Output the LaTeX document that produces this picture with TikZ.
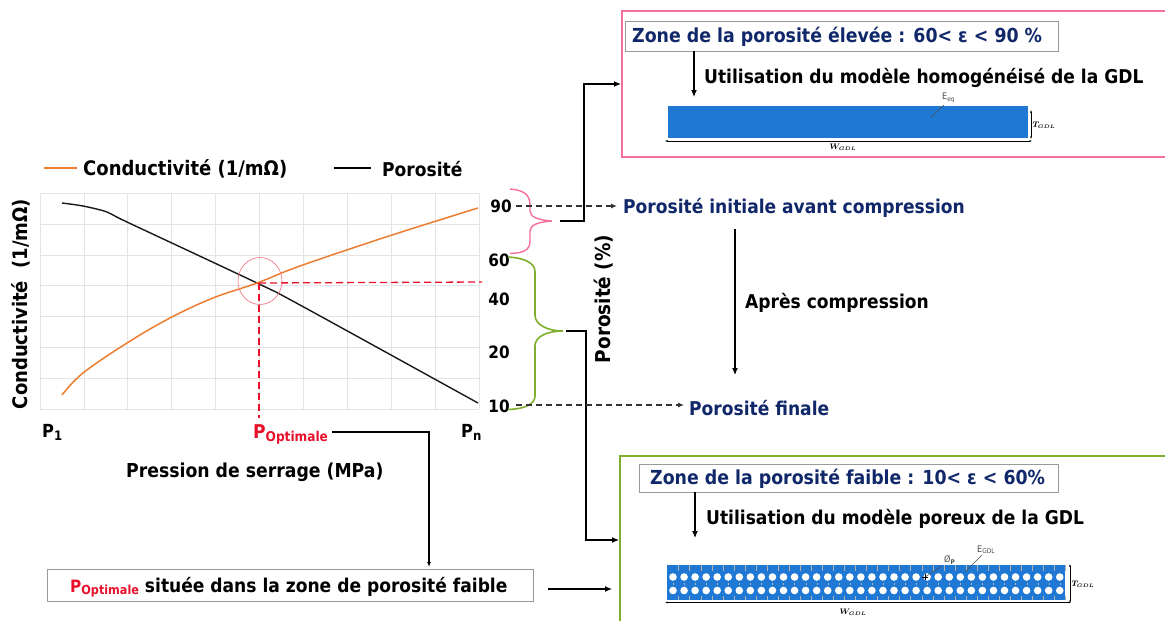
\documentclass[tikz,border=0pt]{standalone}
\usepackage{fontspec}
\setmainfont{DejaVu Sans Condensed}[BoldFont={DejaVu Sans Condensed Bold}]
\usepackage{amsmath}
\usetikzlibrary{arrows.meta,calc,shapes.geometric}
\definecolor{navy}{HTML}{10286A}
\definecolor{orangeC}{HTML}{ED7D31}
\definecolor{pinkC}{HTML}{F36FA0}
\definecolor{greenC}{HTML}{7FAE2E}
\definecolor{blueC}{HTML}{1F78D4}
\definecolor{redC}{HTML}{E8102A}
\definecolor{gridC}{HTML}{E4E4E4}
\definecolor{grayB}{HTML}{9A9A9A}
\tikzset{
  lab/.style={font=\fontsize{#1}{#1}\selectfont\bfseries,inner sep=0pt,text=black,yshift=-1pt},
  lab/.default=19,
  navylab/.style={lab=#1,text=navy},
  navylab/.default=19,
  txtbox/.style={draw=grayB,line width=0.9pt,fill=white,inner sep=0pt},
  conn/.style={line width=1.2pt,black},
  arr/.style={conn,-{Latex[length=7pt,width=6pt]}},
  dashln/.style={line width=1.1pt,black!80,dash pattern=on 6pt off 4pt,-{Latex[length=6pt,width=5pt]}},
  reddash/.style={line width=1.3pt,redC,dash pattern=on 7pt off 4pt},
  gridl/.style={line width=0.6pt,gridC},
  small/.style={font=\fontsize{9}{9}\selectfont,inner sep=0pt,text=black!70},
  dimln/.style={line width=0.6pt,black,{Latex[length=2.5pt,width=2pt]}-{Latex[length=2.5pt,width=2pt]}},
  lead/.style={line width=0.5pt,black!70},
}
\begin{document}
\begin{tikzpicture}[x=1pt,y=-1pt]
\useasboundingbox (0,0) rectangle (1165,621);
\fill[white] (0,0) rectangle (1165,621);
% grid
\foreach \x in {40,84,127,171,215,259,303,347,391,435,479} \draw[gridl] (\x,193) -- (\x,409);
\foreach \y in {193,224,255,285,316,347,378,409} \draw[gridl] (40,\y) -- (479,\y);
% curves
\draw[line width=1.4pt,black!90] plot[smooth,tension=0.5] coordinates {(62,203) (83,206) (107,212) (127,222) (257,283) (300,305) (478,403)};
\draw[line width=1.5pt,orangeC] plot[smooth,tension=0.6] coordinates {(62,395) (83,373) (127,343) (170,318) (213,298) (257,283) (300,266) (389,236) (478,208)};
\node[draw=redC!55,line width=0.7pt,ellipse,minimum width=44pt,minimum height=47pt,inner sep=0pt] (circ) at (260,281) {};
\coordinate (cross) at (259,283);
\coordinate (crossB) at (259,418);
\coordinate (crossR) at (482,282);
\draw[reddash] (cross) -- (crossB);
\draw[reddash] (cross) -- (crossR);
% legend
\coordinate (lo1) at (44,168); \coordinate (lo2) at (77,168);
\coordinate (lb1) at (334,168); \coordinate (lb2) at (371,168);
\draw[line width=1.5pt,orangeC] (lo1) -- (lo2);
\draw[line width=1.4pt,black] (lb1) -- (lb2);
\node[lab=20,anchor=west] (lgc) at (83,168) {Conductivité (1/mΩ)};
\node[lab,anchor=west] (lgp) at (382,168) {Porosité};
% axes labels
\node[lab=20,rotate=90] (ylab) at (21,303) {Conductivité\ \ (1/mΩ)};
\node[lab=20.5,rotate=90] (ylab2) at (604,298) {Porosité (\%)};
\node[lab=18,anchor=west] (p1) at (42,431) {P\raisebox{-3pt}{\fontsize{13}{13}\selectfont 1}};
\node[lab=19,anchor=west,text=redC] (popt) at (253,433) {P\raisebox{-3pt}{\fontsize{13.5}{13.5}\selectfont Optimale}};
\node[lab=18,anchor=west] (pn) at (461,431) {P\raisebox{-3pt}{\fontsize{13}{13}\selectfont n}};
\node[lab=19.2,anchor=west] (xlab) at (126,471) {Pression de serrage (MPa)};
% ticks
\node[lab=17] (t90) at (501,205) {90};
\node[lab=17] (t60) at (499,259) {60};
\node[lab=17] (t40) at (499,298) {40};
\node[lab=17] (t20) at (499,351) {20};
\node[lab=17] (t10) at (499,405) {10};
% braces
\coordinate (bp) at (552,221);
\coordinate (bg) at (563,331);
\draw[line width=1.4pt,pinkC] (510,189) .. controls (524,190) and (530,195) .. (530,205) -- (530,211) .. controls (530,217) and (538,220) .. (bp) .. controls (538,222) and (530,225) .. (530,231) -- (530,241) .. controls (530,250) and (524,253) .. (510,253.5);
\draw[line width=1.6pt,greenC] (508,257) .. controls (525,258) and (535,263) .. (535,272) -- (535,315) .. controls (535,325) and (548,331) .. (bg) .. controls (548,331) and (535,336) .. (535,346) -- (535,396) .. controls (535,404) and (525,409) .. (508,409.5);
% frames
\node[draw=pinkC,line width=1.6pt,minimum width=545pt,minimum height=146pt,anchor=north west,inner sep=0pt] (ftop) at (621,10) {};
\node[draw=greenC,line width=1.8pt,minimum width=548pt,minimum height=172pt,anchor=north west,inner sep=0pt] (fbot) at (619,455) {};
% right text
\node[navylab,anchor=west] (pi) at (623,207) {Porosité initiale avant compression};
\node[navylab,anchor=west] (pf) at (689,407) {Porosité finale};
\node[lab,anchor=west] (apc) at (745,302) {Après compression};
\coordinate (a1) at (735,229); \coordinate (a2) at (735,375);
\draw[arr] (a1) -- (a2);
% connectors
\coordinate (s1) at (560,221); \coordinate (e1) at (621,84);
\draw[arr] (s1) -- (584,221) |- (e1);
\coordinate (s2) at (566,331); \coordinate (e2) at (619,540);
\draw[arr] (s2) -- (586,331) |- (e2);
\coordinate (d1) at (516,206); \coordinate (d2) at (617,206);
\coordinate (d3) at (516,405); \coordinate (d4) at (684,405);
\draw[dashln] (d1) -- (d2);
\draw[dashln] (d3) -- (d4);
% top box
\node[txtbox,minimum width=433pt,minimum height=30pt,anchor=north west] (bt) at (625,21) {};
\node[navylab=19.3,anchor=west] (btt) at (632,36) {Zone de la porosité élevée : 60< ε < 90 \%};
\coordinate (ua1) at (694,97);
\draw[arr] (694,51) -- (ua1);
\node[lab,anchor=west] (ut) at (704,77) {Utilisation du modèle homogénéisé de la GDL};
\node[fill=blueC,draw=white,line width=0.3pt,minimum width=361pt,minimum height=33pt,anchor=north west,inner sep=0pt] (rt) at (667,105) {};
\coordinate (rtl) at (931,117); \coordinate (rtr) at (944,105);
\draw[lead] (rtl) -- (rtr);
\node[small,anchor=west] (eeq) at (942,98) {E\raisebox{-1.5pt}{\fontsize{6.5}{6.5}\selectfont eq}};
\coordinate (tv1) at (1031,110); \coordinate (tv2) at (1031,139);
\draw[dimln] (tv1) -- (tv2);
\coordinate (th1) at (665,141); \coordinate (th2) at (1032,141);
\draw[dimln] (th1) -- (th2);
\node[inner sep=0pt,font=\fontsize{8}{8}\selectfont] (tgt) at (1044,125) {$\boldsymbol{T_{\scriptscriptstyle GDL}}$};
\node[inner sep=0pt,font=\fontsize{8}{8}\selectfont] (wgt) at (843,147) {$\boldsymbol{W_{\scriptscriptstyle GDL}}$};
% bottom box
\node[txtbox,minimum width=419pt,minimum height=28pt,anchor=north west] (bb) at (639,464) {};
\node[navylab=19.3,anchor=west] (bbt) at (650,478) {Zone de la porosité faible : 10< ε < 60\%};
\coordinate (ub1) at (695,538);
\draw[arr] (695,492) -- (ub1);
\node[lab,anchor=west] (ub) at (706,518) {Utilisation du modèle poreux de la GDL};
\node[fill=blueC,draw=white,line width=0.3pt,minimum width=399pt,minimum height=36pt,anchor=north west,inner sep=0pt] (rb) at (666,564) {};
\foreach \i in {0,...,35} {
  \pgfmathsetmacro\cx{673+\i*11.05}
  \fill[white] (\cx,577) circle (3.8pt);
  \fill[white] (\cx,590.5) circle (3.8pt);
  \draw[line width=0.2pt,black!30] ({\cx+5.5},564.5) -- ({\cx+5.5},571) ({\cx},583) -- ({\cx},585) ({\cx+5.5},596) -- ({\cx+5.5},600);
}
\draw[lead] (925,577) -- (942,566);
\draw[lead] (965,572) -- (982,555);
\draw[line width=0.3pt,black] (925,574) -- (925,580) (922,577) -- (928,577);
\node[small,anchor=west] (phi) at (944,560) {Ø\raisebox{-1.5pt}{\fontsize{6.5}{6.5}\selectfont\bfseries P}};
\node[small,anchor=west] (eg) at (977,550) {E\raisebox{-1.5pt}{\fontsize{6.5}{6.5}\selectfont GDL}};
\coordinate (bv1) at (1070,564); \coordinate (bv2) at (1070,603);
\draw[dimln] (bv1) -- (bv2);
\coordinate (bh1) at (665,602.5); \coordinate (bh2) at (1071,602.5);
\draw[dimln] (bh1) -- (bh2);
\node[inner sep=0pt,font=\fontsize{8}{8}\selectfont] (tgb) at (1083,584) {$\boldsymbol{T_{\scriptscriptstyle GDL}}$};
\node[inner sep=0pt,font=\fontsize{8}{8}\selectfont] (wgb) at (853,612) {$\boldsymbol{W_{\scriptscriptstyle GDL}}$};
% P_opt box
\node[txtbox,minimum width=486pt,minimum height=32pt,anchor=north west] (pb) at (47,569) {};
\node[lab,anchor=west] (pbt) at (70,586) {\textcolor{redC}{\fontsize{17}{17}\selectfont P\raisebox{-2.5pt}{\fontsize{12.5}{12.5}\selectfont Optimale}} située dans la zone de porosité faible};
\coordinate (c1) at (332,432); \coordinate (c2) at (429,567);
\draw[conn,-{Latex[length=5pt,width=4pt]}] (c1) -| (c2);
\coordinate (c3) at (548,589); \coordinate (c4) at (612,589);
\draw[arr] (c3) -- (c4);
\end{tikzpicture}
\end{document}
